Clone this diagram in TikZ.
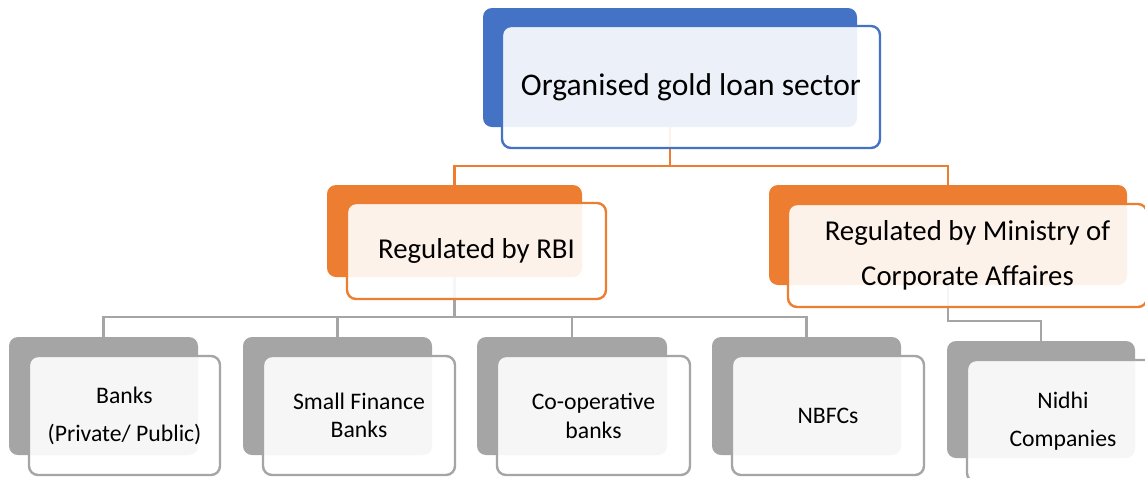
\documentclass[tikz,border=0pt]{standalone}
\usepackage{fontspec}
\setmainfont{Carlito}
\definecolor{cblue}{HTML}{4472C4}
\definecolor{corange}{HTML}{ED7D31}
\definecolor{cgray}{HTML}{A5A5A5}
\tikzset{
  backbox/.style={rectangle, rounded corners=9pt, inner sep=0pt, fill=#1},
  frontbox/.style={rectangle, rounded corners=9pt, inner sep=0pt, draw=#1, line width=2.4pt,
     fill=white, fill opacity=0.9, text opacity=1, align=center, text=black},
  conn/.style={draw=#1, line width=2.8pt},
}
\begin{document}
\begin{tikzpicture}[x=1pt,y=-1pt]
\useasboundingbox (0,0) rectangle (1145,477);
\clip (0,0) rectangle (1145,477);
% back boxes
\node[backbox=cblue, minimum width=374pt, minimum height=119pt] (tb) at (670,67.5) {};
\node[backbox=corange, minimum width=255pt, minimum height=92pt] (rb) at (454.5,231) {};
\node[backbox=corange, minimum width=358pt, minimum height=100pt] (mb) at (948,235) {};
\node[backbox=cgray, minimum width=189pt, minimum height=118pt] (b1) at (103.5,396) {};
\node[backbox=cgray, minimum width=189pt, minimum height=118pt] (b2) at (337.5,396) {};
\node[backbox=cgray, minimum width=190pt, minimum height=118pt] (b3) at (572,396) {};
\node[backbox=cgray, minimum width=189pt, minimum height=118pt] (b4) at (806.5,396) {};
\node[backbox=cgray, minimum width=188pt, minimum height=117pt] (b5) at (1041,399.5) {};
% connectors
\coordinate (j1) at (670,166);
\coordinate (j2) at (454.5,317);
\coordinate (j3) at (948,321);
\draw[conn=corange] (tb.south) -- (j1);
\draw[conn=corange] (j1) -| (rb.north);
\draw[conn=corange] (j1) -| (mb.north);
\draw[conn=cgray] (rb.south) -- (j2);
\draw[conn=cgray] (j2) -| (b1.north);
\draw[conn=cgray] (j2) -| (b2.north);
\draw[conn=cgray] (j2) -| (b3.north);
\draw[conn=cgray] (j2) -| (b4.north);
\draw[conn=cgray] (mb.south) -- (j3) -| (b5.north);
% front boxes
\node[frontbox=cblue, minimum width=378pt, minimum height=122pt, font=\fontsize{31.5}{38}\selectfont] (tf) at (691,87) {\raisebox{-3pt}{Organised gold loan sector}};
\node[frontbox=corange, minimum width=259pt, minimum height=96pt, font=\fontsize{28.8}{36}\selectfont] (rf) at (476.5,251) {\raisebox{-3pt}{Regulated by RBI}};
\node[frontbox=corange, minimum width=359pt, minimum height=103pt, font=\fontsize{28.8}{45}\selectfont] (mf) at (967.5,255.5) {Regulated by Ministry of\\Corporate Affaires};
\node[frontbox=cgray, minimum width=191pt, minimum height=119pt, font=\fontsize{23.7}{38}\selectfont] (f1) at (124.5,415.5) {Banks\\(Private/ Public)};
\node[frontbox=cgray, minimum width=192pt, minimum height=119pt, font=\fontsize{23.7}{27.5}\selectfont] (f2) at (359,415.5) {Small Finance\\Banks};
\node[frontbox=cgray, minimum width=193pt, minimum height=119pt, font=\fontsize{23.7}{29}\selectfont] (f3) at (593.5,415.5) {Co-operative\\banks};
\node[frontbox=cgray, minimum width=192pt, minimum height=119pt, font=\fontsize{23.7}{29}\selectfont] (f4) at (828,415.5) {NBFCs};
\node[frontbox=cgray, minimum width=192pt, minimum height=122pt, font=\fontsize{23.7}{38}\selectfont] (f5) at (1063,421) {Nidhi\\Companies};
\end{tikzpicture}
\end{document}
